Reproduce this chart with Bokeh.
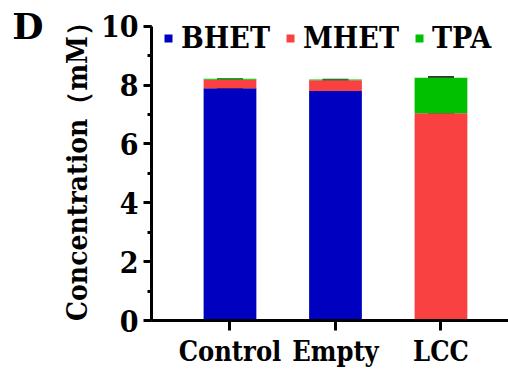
from bokeh.plotting import figure
from bokeh.models import ColumnDataSource, Whisker, TeeHead, LinearAxis, SingleIntervalTicker, FixedTicker, Range1d
from bokeh.embed import file_html
from bokeh.resources import INLINE

categories = ["Control", "Empty", "LCC"]
positions = [1, 2, 3]
series = ["BHET", "MHET", "TPA"]
bhet = [7.89, 7.80, 0.0]
mhet = [0.29, 0.36, 7.04]
tpa = [0.03, 0.03, 1.21]
bhet_err = [0.02, 0.02, 0.0]
mhet_err = [0.02, 0.02, 0.02]
tpa_err = [0.0, 0.0, 0.02]
colors = ["#0000C0", "#F94141", "#00C000"]
y_ticks_interval = 2
panel_letter = "D"

FONT = "DejaVu Serif Condensed"
FONT2 = "DejaVu Serif"

src = ColumnDataSource(dict(x=positions, BHET=bhet, MHET=mhet, TPA=tpa))

p = figure(width=508, height=371, output_backend="svg", toolbar_location=None,
           x_range=Range1d(0.256, 3.64), y_range=Range1d(0, 10.6),
           min_border_left=151, min_border_right=0, min_border_top=8, min_border_bottom=51)

p.vbar_stack(series, x="x", width=0.5, color=colors, line_color=None,
             source=src, legend_label=series)

wx, wlo, whi = [], [], []
cum = [0.0, 0.0, 0.0]
for vals, errs in [(bhet, bhet_err), (mhet, mhet_err), (tpa, tpa_err)]:
    for i in range(3):
        cum[i] += vals[i]
        if errs[i] > 0:
            wx.append(positions[i])
            wlo.append(cum[i] - errs[i])
            whi.append(cum[i] + errs[i])
wsrc = ColumnDataSource(dict(x=wx, lower=wlo, upper=whi))
ecol = "#383838"
p.add_layout(Whisker(base="x", lower="lower", upper="upper", source=wsrc, dimension="height",
                     line_color=ecol, line_width=2,
                     upper_head=TeeHead(size=26, line_color=ecol, line_width=2),
                     lower_head=TeeHead(size=26, line_color=ecol, line_width=2)))

p.xgrid.visible = False
p.ygrid.visible = False
p.outline_line_color = None

ya = p.yaxis[0]
ya.bounds = (0, 10)
ya.ticker = SingleIntervalTicker(interval=y_ticks_interval, num_minor_ticks=2)
ya.axis_line_width = 3
ya.major_tick_line_width = 3
ya.minor_tick_line_width = 3
ya.major_tick_in = 0
ya.major_tick_out = 8
ya.minor_tick_in = 0
ya.minor_tick_out = 4
ya.major_label_standoff = 5
ya.major_label_text_font = FONT
ya.major_label_text_font_style = "bold"
ya.major_label_text_font_size = "30px"
ya.major_label_text_color = "black"
ya.axis_label = "Concentration（mM）"
ya.axis_label_text_font = FONT
ya.axis_label_text_font_style = "bold"
ya.axis_label_text_font_size = "28px"
ya.axis_label_standoff = 4
ya.axis_label_text_color = "black"

da = LinearAxis(ticker=FixedTicker(ticks=[10]), major_label_overrides={10: panel_letter},
                axis_line_color=None, major_tick_line_color=None, minor_tick_line_color=None,
                major_tick_in=0, major_tick_out=0, major_label_standoff=14,
                major_label_text_font=FONT2, major_label_text_font_style="bold",
                major_label_text_font_size="36px", major_label_text_color="black")
p.add_layout(da, "left")

xa = p.xaxis[0]
xa.ticker = FixedTicker(ticks=positions)
xa.major_label_overrides = {positions[i]: categories[i] for i in range(3)}
xa.axis_line_width = 3
xa.major_tick_line_width = 3
xa.major_tick_in = 0
xa.major_tick_out = 10
xa.minor_tick_line_color = None
xa.major_label_standoff = 5
xa.major_label_text_font = FONT
xa.major_label_text_font_style = "bold"
xa.major_label_text_font_size = "27px"
xa.major_label_text_color = "black"

lg = p.legend[0]
lg.orientation = "horizontal"
lg.location = (12, 265)
lg.padding = 0
lg.margin = 0
lg.spacing = 15
lg.glyph_width = 10
lg.glyph_height = 10
lg.label_standoff = 8
lg.label_text_font = FONT
lg.label_text_font_style = "bold"
lg.label_text_font_size = "30px"
lg.label_text_color = "black"
lg.background_fill_alpha = 0
lg.border_line_color = None

open("out.html", "w").write(file_html(p, INLINE))
